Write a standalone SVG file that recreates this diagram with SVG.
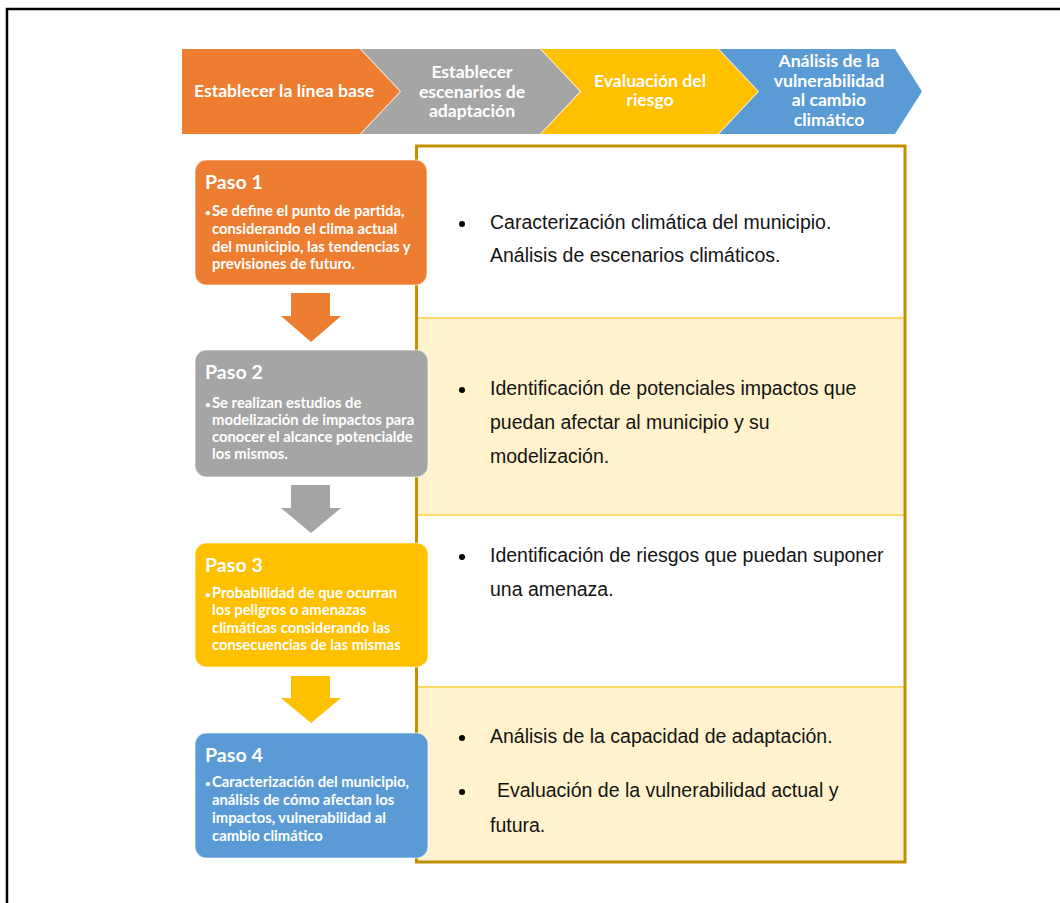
<svg xmlns="http://www.w3.org/2000/svg" width="1060" height="903" viewBox="0 0 1060 903">
  <style>
    .band { font-family: Lato, "Open Sans", "Liberation Sans", sans-serif; font-weight: 700; font-size: 17.6px; fill: #ffffff; text-anchor: middle; }
    .title { font-family: Lato, "Open Sans", "Liberation Sans", sans-serif; font-weight: 700; font-size: 19.6px; fill: #ffffff; }
    .desc { font-family: Lato, "Open Sans", "Liberation Sans", sans-serif; font-weight: 700; font-size: 14.8px; fill: #ffffff; }
    .dot { font-size: 10px; }
    .step { stroke: #ffffff; stroke-opacity: 0.6; stroke-width: 1.2; }
    .body { font-family: "Liberation Sans", Arial, sans-serif; font-size: 19.5px; fill: #141414; }
    .sep { stroke: #FFD966; stroke-width: 2; }
  </style>

  <rect x="0" y="0" width="1060" height="903" fill="#ffffff"/>
  <!-- page frame -->
  <path d="M7,903 V9 H1060" fill="none" stroke="#000000" stroke-width="2.5"/>

  <!-- process band -->
  <g id="band">
    <g id="band-baseline">
      <polygon points="182,49 360,49 400,91.5 360,134 182,134" fill="#ED7D31"/>
      <text class="band" x="284" y="97">Establecer la línea base</text>
    </g>
    <g id="band-scenarios">
      <polygon points="361,49 540,49 580,91.5 540,134 361,134 401,91.5" fill="#A5A5A5"/>
      <text class="band" x="472" y="78">Establecer</text>
      <text class="band" x="472" y="98">escenarios de</text>
      <text class="band" x="472" y="117">adaptación</text>
    </g>
    <g id="band-risk">
      <polygon points="541,49 718,49 758,91.5 718,134 541,134 581,91.5" fill="#FFC000"/>
      <text class="band" x="650" y="87">Evaluación del</text>
      <text class="band" x="650" y="106">riesgo</text>
    </g>
    <g id="band-vulnerability">
      <polygon points="719,49 895,49 922,91.5 895,134 719,134 759,91.5" fill="#5B9BD5"/>
      <text class="band" x="829" y="67">Análisis de la</text>
      <text class="band" x="829" y="86.5">vulnerabilidad</text>
      <text class="band" x="829" y="106">al cambio</text>
      <text class="band" x="829" y="125.5">climático</text>
    </g>
  </g>

  <!-- detail panel -->
  <g id="panel">
    <rect x="417" y="146" width="488" height="172" fill="#ffffff"/>
    <rect x="417" y="318" width="488" height="197" fill="#FFF2CC"/>
    <rect x="417" y="515" width="488" height="172" fill="#ffffff"/>
    <rect x="417" y="687" width="488" height="175" fill="#FFF2CC"/>
    <line class="sep" x1="418" y1="318" x2="904" y2="318"/>
    <line class="sep" x1="418" y1="515" x2="904" y2="515"/>
    <line class="sep" x1="418" y1="687" x2="904" y2="687"/>
    <rect x="416.5" y="146" width="488.5" height="716" fill="none" stroke="#BF9000" stroke-width="3"/>
  </g>

  <g id="detail-1">
    <circle cx="462" cy="224" r="3"/>
    <text class="body" x="490" y="229">Caracterización climática del municipio.</text>
    <text class="body" x="490" y="262">Análisis de escenarios climáticos.</text>
  </g>
  <g id="detail-2">
    <circle cx="462" cy="390" r="3"/>
    <text class="body" x="490" y="395">Identificación de potenciales impactos que</text>
    <text class="body" x="490" y="429">puedan afectar al municipio y su</text>
    <text class="body" x="490" y="463">modelización.</text>
  </g>
  <g id="detail-3">
    <circle cx="462" cy="557" r="3"/>
    <text class="body" x="490" y="562">Identificación de riesgos que puedan suponer</text>
    <text class="body" x="490" y="596">una amenaza.</text>
  </g>
  <g id="detail-4">
    <circle cx="462" cy="738" r="3"/>
    <text class="body" x="490" y="743">Análisis de la capacidad de adaptación.</text>
    <circle cx="462" cy="792" r="3"/>
    <text class="body" x="497" y="797">Evaluación de la vulnerabilidad actual y</text>
    <text class="body" x="490" y="832">futura.</text>
  </g>

  <!-- steps -->
  <g id="step-1">
    <rect class="step" x="195" y="160" width="232" height="125" rx="11" fill="#ED7D31"/>
    <text class="title" x="205" y="189">Paso 1</text>
    <text class="desc" x="205" y="216"><tspan class="dot">•</tspan><tspan x="212">Se define el punto de partida,</tspan></text>
    <text class="desc" x="212" y="234">considerando el clima actual</text>
    <text class="desc" x="212" y="252">del municipio, las tendencias y</text>
    <text class="desc" x="212" y="269">previsiones de futuro.</text>
  </g>
  <g id="step-2">
    <rect class="step" x="195" y="350" width="233" height="127" rx="11" fill="#A5A5A5"/>
    <text class="title" x="205" y="379">Paso 2</text>
    <text class="desc" x="205" y="408"><tspan class="dot">•</tspan><tspan x="212">Se realizan estudios de</tspan></text>
    <text class="desc" x="212" y="425">modelización de impactos para</text>
    <text class="desc" x="212" y="442">conocer el alcance potencialde</text>
    <text class="desc" x="212" y="459">los mismos.</text>
  </g>
  <g id="step-3">
    <rect class="step" x="195" y="543" width="233" height="124" rx="11" fill="#FFC000"/>
    <text class="title" x="205" y="572">Paso 3</text>
    <text class="desc" x="205" y="598"><tspan class="dot">•</tspan><tspan x="212">Probabilidad de que ocurran</tspan></text>
    <text class="desc" x="212" y="615">los peligros o amenazas</text>
    <text class="desc" x="212" y="633">climáticas considerando las</text>
    <text class="desc" x="212" y="650">consecuencias de las mismas</text>
  </g>
  <g id="step-4">
    <rect class="step" x="195" y="733" width="233" height="125" rx="11" fill="#5B9BD5"/>
    <text class="title" x="205" y="762">Paso 4</text>
    <text class="desc" x="205" y="787"><tspan class="dot">•</tspan><tspan x="212">Caracterización del municipio,</tspan></text>
    <text class="desc" x="212" y="805">análisis de cómo afectan los</text>
    <text class="desc" x="212" y="823">impactos, vulnerabilidad al</text>
    <text class="desc" x="212" y="841">cambio climático</text>
  </g>

  <!-- block arrows between steps -->
  <g id="connectors">
    <polygon points="291,293 330,293 330,316 341,316 311,342 281,316 291,316" fill="#ED7D31"/>
    <polygon points="291,485 330,485 330,508 341,508 311,533 281,508 291,508" fill="#A5A5A5"/>
    <polygon points="291,676 330,676 330,698 341,698 311,723 281,698 291,698" fill="#FFC000"/>
  </g>
</svg>
